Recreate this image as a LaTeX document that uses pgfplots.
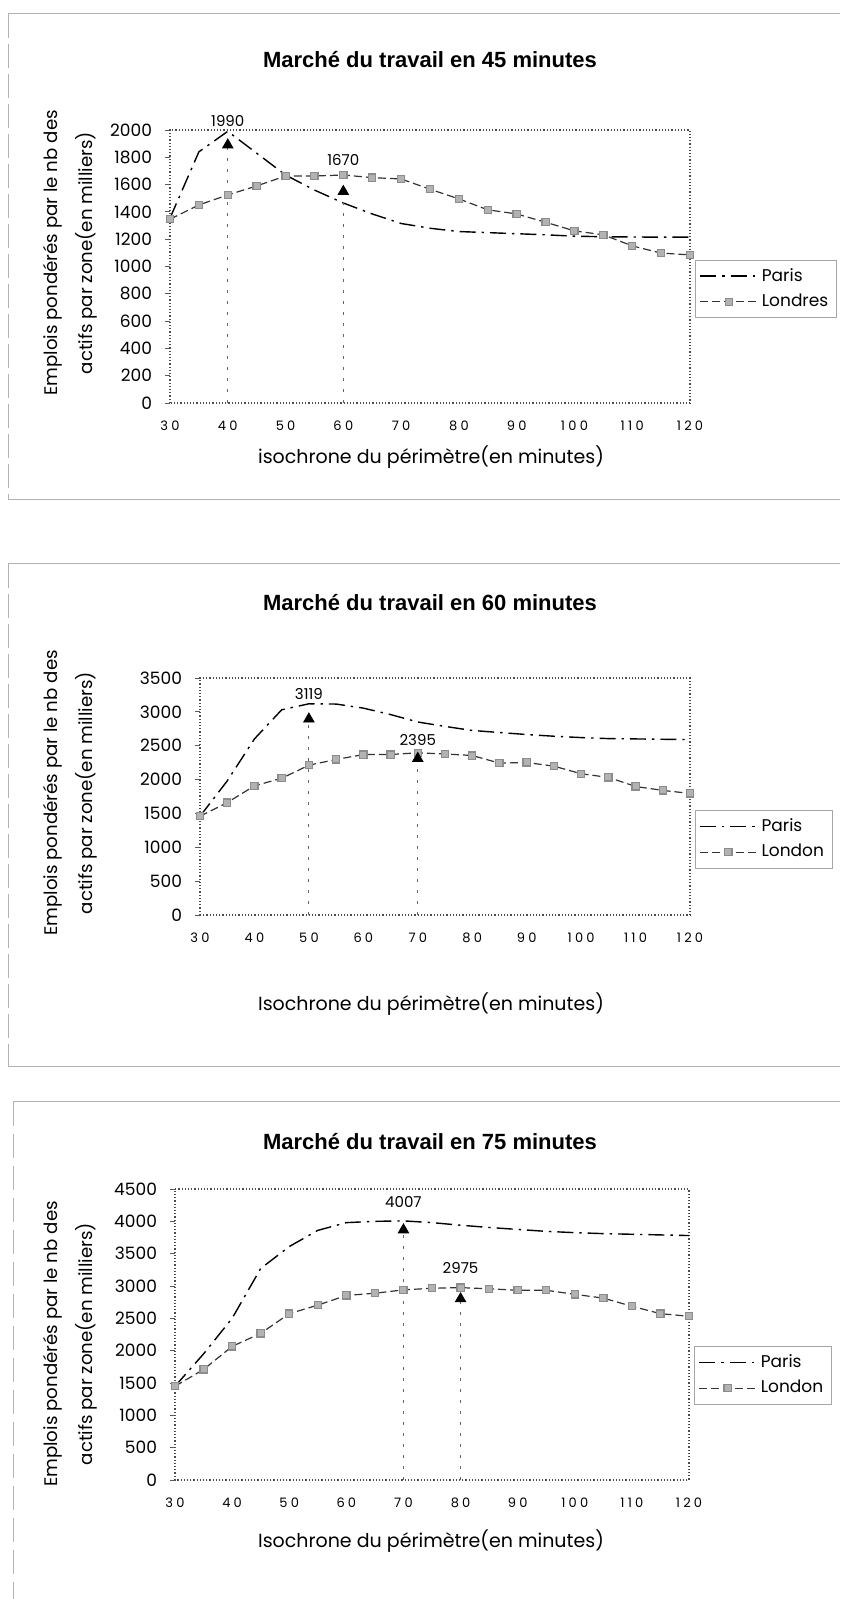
\documentclass[border=0pt]{standalone}
\usepackage{fontspec}
\setmainfont{Poppins}
\newfontfamily\titlefont{Liberation Sans}
\newfontfamily\tickfont[LetterSpace=25]{Poppins}
\usepackage{pgfplots}
\usepackage{pgfplotstable}
\pgfplotsset{compat=1.18}

\pgfplotstableread{
x paris londres
30 1354 1346
35 1840 1451
40 1990 1524
45 1830 1590
50 1670 1663
55 1560 1663
60 1465 1670
65 1385 1651
70 1315 1641
75 1280 1566
80 1256 1495
85 1248 1415
90 1240 1385
95 1232 1324
100 1222 1261
105 1218 1232
110 1216 1151
115 1215 1098
120 1215 1085
}\tabA

\pgfplotstableread{
x paris londres
30 1458 1458
35 1980 1660
40 2600 1907
45 3030 2019
50 3119 2212
55 3115 2297
60 3055 2369
65 2960 2370
70 2850 2395
75 2785 2378
80 2725 2355
85 2695 2243
90 2665 2252
95 2640 2198
100 2620 2086
105 2605 2032
110 2600 1898
115 2595 1840
120 2590 1795
}\tabB

\pgfplotstableread{
x paris londres
30 1450 1450
35 1950 1709
40 2500 2066
45 3270 2267
50 3610 2572
55 3860 2704
60 3980 2854
65 4000 2888
70 4007 2940
75 3980 2965
80 3940 2975
85 3905 2957
90 3875 2934
95 3845 2934
100 3825 2871
105 3810 2813
110 3800 2687
115 3790 2572
120 3780 2532
}\tabC

\tikzset{ann/.style={font=\fontsize{7.5}{8}\selectfont}}
\pgfplotsset{
  panel/.style={
    scale only axis, xmin=30, xmax=120, xtick={30,40,...,120}, clip=false,
    axis line style={gray!60!black, densely dotted, line width=0.6pt},
    tick style={gray!70!black, line width=0.4pt, solid},
    major tick length=2.5pt, tick align=outside, tick pos=left,
    xtick style={draw=none},
    xticklabel style={font=\tickfont\fontsize{6.5}{7}\selectfont, yshift=-3pt},
    yticklabel style={font=\fontsize{8.5}{9}\selectfont, xshift=-3pt},
    /pgf/number format/assume math mode=true,
    /pgf/number format/1000 sep={},
    legend style={draw=gray!70, line width=0.4pt, font=\fontsize{8.5}{9.5}\selectfont,
      inner sep=2pt, row sep=1pt, anchor=west},
    legend cell align=left,
    legend image code/.code={\draw[mark repeat=2,mark phase=2,##1] plot coordinates {(0cm,0cm) (0.5cm,0cm) (1.0cm,0cm)};},
  },
  paris/.style={black, line width=0.7pt, dash pattern=on 8pt off 3pt on 1.2pt off 3pt, no markers},
  londres/.style={black!80, line width=0.6pt, dash pattern=on 4pt off 2pt, mark=square*, mark size=1.8pt,
    mark options={solid, fill=gray!60, draw=gray!90}},
  tri/.style={only marks, mark=triangle*, mark size=3pt, black, forget plot},
  vline/.style={gray!80!black, line width=0.4pt, dash pattern=on 1.5pt off 4pt, no markers, forget plot},
}

\begin{document}
\begin{tikzpicture}
\useasboundingbox (0,0) rectangle (420pt,799.5pt);

% panel frames (scanned borders)
\begin{scope}[gray!60, line width=0.5pt]
\draw (4pt,792.5pt) -- (420pt,792.5pt);
\draw[dash pattern=on 12pt off 3pt] (4pt,792.5pt) -- (4pt,549.5pt);
\draw (4pt,549.5pt) -- (420pt,549.5pt);
\draw (4pt,517.5pt) -- (420pt,517.5pt);
\draw[dash pattern=on 12pt off 3pt] (4pt,517.5pt) -- (4pt,266pt);
\draw (4pt,266pt) -- (420pt,266pt);
\draw (6.5pt,248.5pt) -- (420pt,248.5pt);
\draw[dash pattern=on 12pt off 4pt] (6.5pt,248.5pt) -- (6.5pt,0pt);
\end{scope}

% ---------------- Panel 1 ----------------
\node[font=\titlefont\bfseries\fontsize{11}{13}\selectfont] at (215pt,769.5pt) {Marché du travail en 45 minutes};
\node[rotate=90, align=center, font=\fontsize{9.1}{17.5}\selectfont] at (35.25pt,673pt) {Emplois pondérés par le nb des\\actifs par zone(en milliers)};
\node[font=\fontsize{9.5}{11}\selectfont] at (215.5pt,571pt) {isochrone du périmètre(en minutes)};
\begin{axis}[panel, at={(85pt,598pt)}, anchor=south west, width=260pt, height=136.5pt,
  ymin=0, ymax=2000, ytick={0,200,...,2000},
  legend style={at={(1.01,0.418)}}]
\addplot[paris] table[x=x,y=paris] {\tabA};
\addplot[londres] table[x=x,y=londres] {\tabA};
\legend{Paris,Londres}
\addplot[vline] coordinates {(40,0) (40,1890)};
\addplot[vline] coordinates {(60,0) (60,1549)};
\addplot[tri] coordinates {(40,1890) (60,1549)};
\node[ann] at (axis cs:40,2066) {1990};
\node[ann] at (axis cs:60,1780) {1670};
\end{axis}

% ---------------- Panel 2 ----------------
\node[font=\titlefont\bfseries\fontsize{11}{13}\selectfont] at (215pt,498pt) {Marché du travail en 60 minutes};
\node[rotate=90, align=center, font=\fontsize{9.1}{17.5}\selectfont] at (35.25pt,403pt) {Emplois pondérés par le nb des\\actifs par zone(en milliers)};
\node[font=\fontsize{9.5}{11}\selectfont] at (215.5pt,297.5pt) {Isochrone du périmètre(en minutes)};
\begin{axis}[panel, at={(100pt,342pt)}, anchor=south west, width=245pt, height=118.5pt,
  ymin=0, ymax=3500, ytick={0,500,...,3500},
  legend style={at={(1.01,0.32)}}]
\addplot[paris] table[x=x,y=paris] {\tabB};
\addplot[londres] table[x=x,y=londres] {\tabB};
\legend{Paris,London}
\addplot[vline] coordinates {(50,0) (50,2894)};
\addplot[vline] coordinates {(70,0) (70,2311)};
\addplot[tri] coordinates {(50,2894) (70,2311)};
\node[ann] at (axis cs:50,3262) {3119};
\node[ann] at (axis cs:70,2580) {2395};
\end{axis}

% ---------------- Panel 3 ----------------
\node[font=\titlefont\bfseries\fontsize{11}{13}\selectfont] at (215pt,228.5pt) {Marché du travail en 75 minutes};
\node[rotate=90, align=center, font=\fontsize{9.1}{17.5}\selectfont] at (35.25pt,127.5pt) {Emplois pondérés par le nb des\\actifs par zone(en milliers)};
\node[font=\fontsize{9.5}{11}\selectfont] at (215.5pt,29pt) {Isochrone du périmètre(en minutes)};
\begin{axis}[panel, at={(87.5pt,59.5pt)}, anchor=south west, width=257pt, height=145.5pt,
  ymin=0, ymax=4500, ytick={0,500,...,4500},
  legend style={at={(1.01,0.36)}}]
\addplot[paris] table[x=x,y=paris] {\tabC};
\addplot[londres] table[x=x,y=londres] {\tabC};
\legend{Paris,London}
\addplot[vline] coordinates {(70,0) (70,3867)};
\addplot[vline] coordinates {(80,0) (80,2802)};
\addplot[tri] coordinates {(70,3867) (80,2802)};
\node[ann] at (axis cs:70,4299) {4007};
\node[ann] at (axis cs:80,3274) {2975};
\end{axis}
\end{tikzpicture}
\end{document}
